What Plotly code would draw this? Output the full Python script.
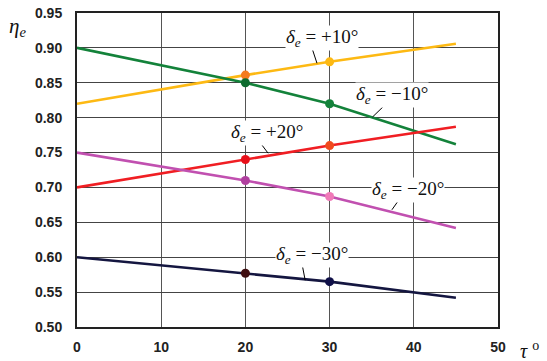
import plotly.graph_objects as go

# ---- data ----
tau = [0, 20, 30, 45]
eta_p10 = [0.82, 0.861, 0.880, 0.906]
eta_m10 = [0.90, 0.850, 0.820, 0.762]
eta_p20 = [0.70, 0.740, 0.760, 0.787]
eta_m20 = [0.75, 0.710, 0.687, 0.642]
eta_m30 = [0.60, 0.577, 0.565, 0.542]

marker_tau = [20, 30]

x_ticks = [0, 10, 20, 30, 40, 50]
y_ticks = [0.50, 0.55, 0.60, 0.65, 0.70, 0.75, 0.80, 0.85, 0.90, 0.95]

series = [
    ("+10", eta_p10, "#FDB913", ["#F47B20", "#FDB913"]),
    ("−10", eta_m10, "#13823A", ["#0E6B2E", "#13823A"]),
    ("+20", eta_p20, "#F01E23", ["#E8101A", "#F04A1E"]),
    ("−20", eta_m20, "#C150B0", ["#B0409F", "#F07AB8"]),
    ("−30", eta_m30, "#141640", ["#3F0E10", "#101048"]),
]

# label positions (data coords) and leader lines (start -> end)
labels = {
    "+10": dict(x=29.1, y=0.914, lx=[27.9, 28.5], ly=[0.900, 0.878]),
    "−10": dict(x=37.4, y=0.8325, lx=[36.3, 35.1], ly=[0.815, 0.801]),
    "+20": dict(x=22.6, y=0.778, lx=[21.7, 22.7], ly=[0.765, 0.749]),
    "−20": dict(x=39.3, y=0.696, lx=[38.4, 37.4], ly=[0.685, 0.668]),
    "−30": dict(x=27.9, y=0.603, lx=[26.7, 27.1], ly=[0.592, 0.567]),
}

fig = go.Figure()

for name, vals, col, mcols in series:
    fig.add_trace(go.Scatter(x=tau, y=vals, mode="lines",
                             line=dict(color=col, width=2.6),
                             showlegend=False, hoverinfo="skip"))
    mvals = [vals[tau.index(t)] for t in marker_tau]
    fig.add_trace(go.Scatter(x=marker_tau, y=mvals, mode="markers",
                             marker=dict(color=mcols, size=9),
                             showlegend=False, hoverinfo="skip"))

for name, lab in labels.items():
    fig.add_shape(type="line", xref="x", yref="y",
                  x0=lab["lx"][0], y0=lab["ly"][0], x1=lab["lx"][1], y1=lab["ly"][1],
                  line=dict(color="black", width=1))
    fig.add_annotation(x=lab["x"], y=lab["y"], xref="x", yref="y",
                       text="<i>δ<sub>e</sub></i> = " + name + "°",
                       showarrow=False, bgcolor="white", borderpad=0,
                       font=dict(family="Liberation Serif", size=19, color="#111"))

fig.add_annotation(x=-0.166, y=0.955, xref="paper", yref="paper",
                   xanchor="left", yanchor="middle",
                   text="<i>η<sub>e</sub></i>", showarrow=False,
                   font=dict(family="Liberation Serif", size=21, color="#111"))
fig.add_annotation(x=1.048, y=-0.072, xref="paper", yref="paper",
                   xanchor="left", yanchor="middle",
                   text="<i>τ</i> <sup>o</sup>", showarrow=False,
                   font=dict(family="Liberation Serif", size=20, color="#111"))

fig.update_xaxes(range=[0, 50], tickvals=x_ticks, ticktext=[str(v) for v in x_ticks],
                 showgrid=True, gridcolor="#555", gridwidth=1,
                 showline=True, linecolor="#222", linewidth=2, mirror=True,
                 zeroline=False, ticks="outside", ticklen=6, tickcolor="rgba(0,0,0,0)",
                 automargin=False, ticklabeloverflow="allow",
                 tickfont=dict(family="Liberation Sans", size=14, color="#222", weight="bold"))
fig.update_yaxes(range=[0.50, 0.95], tickvals=y_ticks, ticktext=[f"{v:.2f}" for v in y_ticks],
                 showgrid=True, gridcolor="#444", gridwidth=1,
                 showline=True, linecolor="#222", linewidth=2, mirror=True,
                 zeroline=False, ticks="outside", ticklen=10, tickcolor="rgba(0,0,0,0)",
                 automargin=False, ticklabeloverflow="allow",
                 tickfont=dict(family="Liberation Sans", size=14, color="#222", weight="bold"))

fig.update_layout(width=547, height=361,
                  margin=dict(l=77, r=49, t=13, b=34),
                  paper_bgcolor="white", plot_bgcolor="white")

fig.write_html("out.html", config={"displayModeBar": False},
               post_script="document.body.style.margin='0';document.body.style.overflow='hidden';")
